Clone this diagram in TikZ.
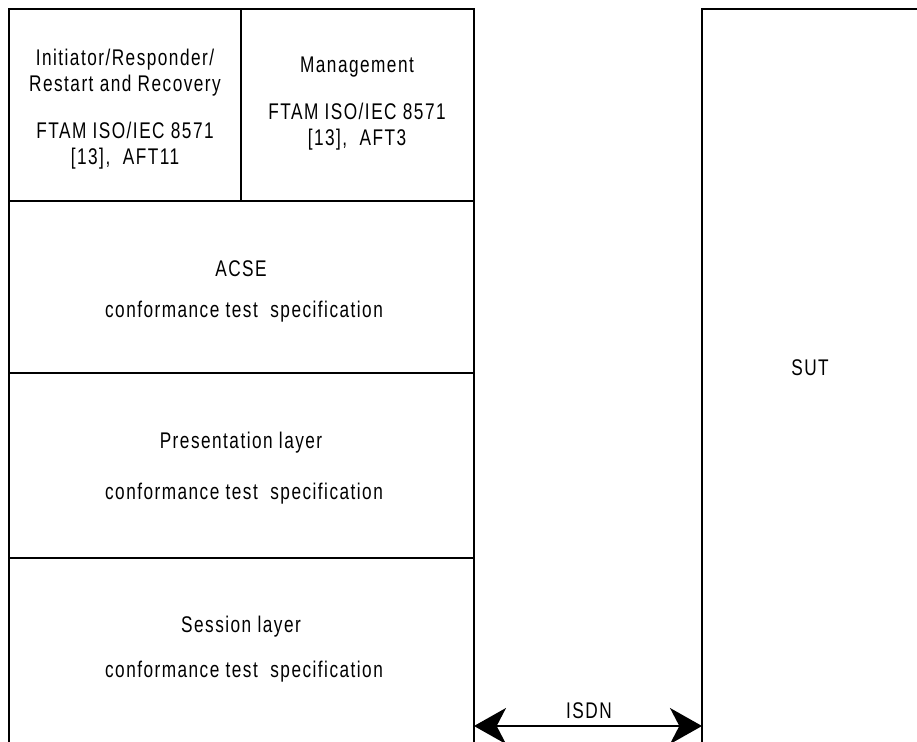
\documentclass[tikz,border=0pt]{standalone}
\usepackage{fontspec}
\setmainfont{Liberation Sans}[LetterSpace=6.5,FakeStretch=0.76]
\usetikzlibrary{arrows.meta}
\begin{document}
\begin{tikzpicture}[x=0.75pt,y=-0.75pt,
  frame/.style={line width=1.1pt,line cap=rect},
  lbl/.style={inner sep=0pt,align=center,font=\fontsize{17}{19.5}\selectfont},
  link/.style={line width=1.5pt,{Stealth[length=24pt,width=27pt,inset=7pt]}-{Stealth[length=24pt,width=27pt,inset=7pt]}}]
\useasboundingbox (0,0) rectangle (917,742);
% left stack
\draw[frame] (9,742) -- (9,9) -- (474,9) -- (474,742);
\draw[frame] (241,9) -- (241,201);
\draw[frame] (9,201) -- (474,201);
\draw[frame] (9,373) -- (474,373);
\draw[frame] (9,558) -- (474,558);
% SUT
\draw[frame] (702,742) -- (702,9) -- (917,9);
% texts
\node[lbl] (ini) at (125,73) {Initiator/Responder/\\Restart and Recovery};
\node[lbl] (ftam1) at (125,146) {FTAM ISO/IEC 8571\\{}[13],\ \ AFT11};
\node[lbl] (mgmt) at (357,67) {Management};
\node[lbl] (ftam2) at (357,127) {FTAM ISO/IEC 8571\\{}[13],\ \ AFT3};
\node[lbl] (acse) at (241,269) {ACSE};
\node[lbl] (acsec) at (244,312) {conformance test\ \ specification};
\node[lbl] (pres) at (241,443) {Presentation layer};
\node[lbl] (presc) at (244,494) {conformance test\ \ specification};
\node[lbl] (sess) at (241,627) {Session layer};
\node[lbl] (sessc) at (244,672) {conformance test\ \ specification};
\node[lbl] (sut) at (810,368) {SUT};
% ISDN link
\coordinate (la) at (474,726);
\coordinate (lb) at (702,726);
\draw[link] (la) -- (lb);
\node[lbl] (isdn) at (589,711) {ISDN};
\end{tikzpicture}
\end{document}
